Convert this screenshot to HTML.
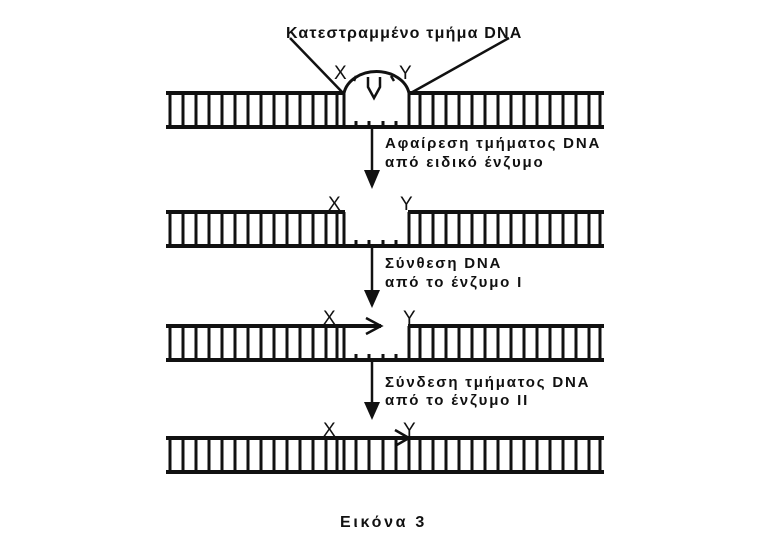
<!DOCTYPE html>
<html><head><meta charset="utf-8"><style>
body{margin:0;background:#fff;width:768px;height:549px;overflow:hidden}
text{font-family:"Liberation Sans",sans-serif;font-weight:bold;fill:#111}
.x{font-weight:normal;font-size:19px}
.l{font-size:15px;letter-spacing:1.8px}
</style></head><body>
<svg width="768" height="549" xmlns="http://www.w3.org/2000/svg">
<defs>
<g id="leftR" stroke="#111" stroke-width="3">
<line x1="170" y1="0" x2="170" y2="34"/><line x1="183" y1="0" x2="183" y2="34"/><line x1="196" y1="0" x2="196" y2="34"/><line x1="209" y1="0" x2="209" y2="34"/><line x1="222" y1="0" x2="222" y2="34"/><line x1="235" y1="0" x2="235" y2="34"/><line x1="248" y1="0" x2="248" y2="34"/><line x1="261" y1="0" x2="261" y2="34"/><line x1="274" y1="0" x2="274" y2="34"/><line x1="287" y1="0" x2="287" y2="34"/><line x1="300" y1="0" x2="300" y2="34"/><line x1="313" y1="0" x2="313" y2="34"/><line x1="326" y1="0" x2="326" y2="34"/><line x1="337" y1="0" x2="337" y2="34"/><line x1="344" y1="0" x2="344" y2="34"/>
</g>
<g id="rightR" stroke="#111" stroke-width="3">
<line x1="409" y1="0" x2="409" y2="34"/><line x1="420" y1="0" x2="420" y2="34"/><line x1="433" y1="0" x2="433" y2="34"/><line x1="446" y1="0" x2="446" y2="34"/><line x1="459" y1="0" x2="459" y2="34"/><line x1="472" y1="0" x2="472" y2="34"/><line x1="485" y1="0" x2="485" y2="34"/><line x1="498" y1="0" x2="498" y2="34"/><line x1="511" y1="0" x2="511" y2="34"/><line x1="524" y1="0" x2="524" y2="34"/><line x1="537" y1="0" x2="537" y2="34"/><line x1="550" y1="0" x2="550" y2="34"/><line x1="563" y1="0" x2="563" y2="34"/><line x1="576" y1="0" x2="576" y2="34"/><line x1="589" y1="0" x2="589" y2="34"/><line x1="600" y1="0" x2="600" y2="34"/>
</g>
<g id="midR" stroke="#111" stroke-width="3">
<line x1="356" y1="0" x2="356" y2="34"/><line x1="369" y1="0" x2="369" y2="34"/><line x1="383" y1="0" x2="383" y2="34"/><line x1="396" y1="0" x2="396" y2="34"/>
</g>
<g id="ticks" stroke="#111" stroke-width="3">
<line x1="356" y1="28" x2="356" y2="34"/><line x1="369" y1="28" x2="369" y2="34"/><line x1="383" y1="28" x2="383" y2="34"/><line x1="396" y1="28" x2="396" y2="34"/>
</g>
</defs>
<text x="286" y="38" font-size="16" letter-spacing="1.2">Κατεστραμμένο τμήμα DNA</text>
<line x1="290" y1="38" x2="344" y2="94" stroke="#111" stroke-width="2.5"/>
<line x1="509" y1="38" x2="409" y2="94" stroke="#111" stroke-width="2.5"/>
<g transform="translate(0,93)">
<use href="#leftR"/><use href="#rightR"/><use href="#ticks"/>
<line x1="166" y1="0" x2="345" y2="0" stroke="#111" stroke-width="4"/>
<line x1="408" y1="0" x2="604" y2="0" stroke="#111" stroke-width="4"/>
<line x1="166" y1="34" x2="604" y2="34" stroke="#111" stroke-width="4"/>
<path d="M344 0 A33 26 0 0 1 409 0" fill="none" stroke="#111" stroke-width="3"/>
<path d="M368 -16 L368 -6 L374 5 L380 -6 L380 -16" fill="none" stroke="#111" stroke-width="2.5"/>
<line x1="356" y1="-17" x2="354" y2="-12" stroke="#111" stroke-width="2.5"/>
<line x1="391" y1="-17" x2="394" y2="-12" stroke="#111" stroke-width="2.5"/>
</g>
<text class="x" x="334" y="79">X</text><text class="x" x="399" y="79">Y</text>
<line x1="372" y1="127" x2="372" y2="172" stroke="#111" stroke-width="2.5"/>
<polygon points="364,170 380,170 372,189" fill="#111"/>
<text class="l" x="385" y="148">Αφαίρεση τμήματος DNA</text>
<text class="l" x="385" y="167">από ειδικό ένζυμο</text>
<g transform="translate(0,212)">
<use href="#leftR"/><use href="#rightR"/><use href="#ticks"/>
<line x1="166" y1="0" x2="345" y2="0" stroke="#111" stroke-width="4"/>
<line x1="408" y1="0" x2="604" y2="0" stroke="#111" stroke-width="4"/>
<line x1="166" y1="34" x2="604" y2="34" stroke="#111" stroke-width="4"/>
</g>
<text class="x" x="328" y="210">X</text><text class="x" x="400" y="210">Y</text>
<line x1="372" y1="246" x2="372" y2="292" stroke="#111" stroke-width="2.5"/>
<polygon points="364,290 380,290 372,308" fill="#111"/>
<text class="l" x="385" y="268">Σύνθεση DNA</text>
<text class="l" x="385" y="287">από το ένζυμο Ι</text>
<g transform="translate(0,326)">
<use href="#leftR"/><use href="#rightR"/><use href="#ticks"/>
<line x1="166" y1="0" x2="381" y2="0" stroke="#111" stroke-width="4"/>
<line x1="408" y1="0" x2="604" y2="0" stroke="#111" stroke-width="4"/>
<line x1="166" y1="34" x2="604" y2="34" stroke="#111" stroke-width="4"/>
<path d="M366 -8 L381 0 L366 8" fill="none" stroke="#111" stroke-width="2.5"/>
</g>
<text class="x" x="323" y="324">X</text><text class="x" x="403" y="324">Y</text>
<line x1="372" y1="360" x2="372" y2="404" stroke="#111" stroke-width="2.5"/>
<polygon points="364,402 380,402 372,420" fill="#111"/>
<text class="l" x="385" y="387">Σύνδεση τμήματος DNA</text>
<text class="l" x="385" y="405">από το ένζυμο ΙΙ</text>
<g transform="translate(0,438)">
<use href="#leftR"/><use href="#rightR"/><use href="#midR"/>
<line x1="166" y1="0" x2="604" y2="0" stroke="#111" stroke-width="4"/>
<line x1="166" y1="34" x2="604" y2="34" stroke="#111" stroke-width="4"/>
<path d="M395 -8 L409 0 L395 8" fill="none" stroke="#111" stroke-width="2.5"/>
</g>
<text class="x" x="323" y="436">X</text><text class="x" x="403" y="436">Y</text>
<text x="340" y="527" font-size="16" letter-spacing="2.7">Εικόνα 3</text>
</svg>
</body></html>
